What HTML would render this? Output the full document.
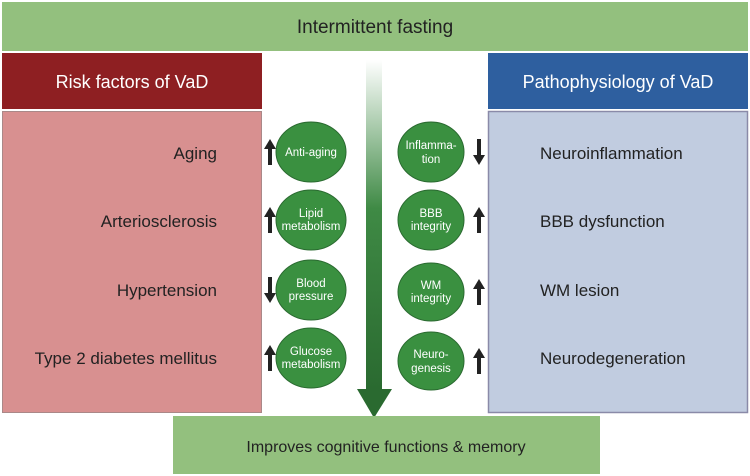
<!DOCTYPE html>
<html><head><meta charset="utf-8"><style>
body{margin:0;width:750px;height:476px;background:#fff;overflow:hidden}
svg{display:block}
text{font-family:"Liberation Sans",sans-serif}
</style></head><body>
<svg width="750" height="476" viewBox="0 0 750 476" xmlns="http://www.w3.org/2000/svg">
<defs>
<linearGradient id="g" x1="0" y1="0" x2="0" y2="1">
<stop offset="0" stop-color="#ffffff"/>
<stop offset="0.45" stop-color="#3f8a45"/>
<stop offset="1" stop-color="#2a6a30"/>
</linearGradient>
<g id="up"><polygon points="0,-13 -6,-3 -2,-3 -2,13 2,13 2,-3 6,-3" fill="#222"/></g>
<g id="dn"><polygon points="0,13 -6,3 -2,3 -2,-13 2,-13 2,3 6,3" fill="#222"/></g>
</defs>
<rect x="2" y="2" width="746" height="49" fill="#93c07e"/>
<text x="375" y="33" font-size="19" text-anchor="middle" fill="#222">Intermittent fasting</text>
<rect x="2" y="53" width="260" height="56" fill="#8e1f22"/>
<text x="132" y="88" font-size="18" text-anchor="middle" fill="#fff">Risk factors of VaD</text>
<rect x="488" y="53" width="260" height="56" fill="#2e5f9f"/>
<text x="618" y="88" font-size="18" text-anchor="middle" fill="#fff">Pathophysiology of VaD</text>
<rect x="2.5" y="111.5" width="259" height="301" fill="#d89090" stroke="#a88" stroke-width="1"/>
<rect x="488.5" y="111.5" width="259" height="301" fill="#c1cce0" stroke="#8a8aa8" stroke-width="1.5"/>
<rect x="366" y="60" width="16" height="330" fill="url(#g)"/>
<polygon points="357,389 392,389 374,418" fill="#2a6a30"/>
<rect x="173" y="416" width="427" height="58" fill="#93c07e"/>
<text x="386" y="452" font-size="16" text-anchor="middle" fill="#222">Improves cognitive functions &amp; memory</text>
<g font-size="17" fill="#222" text-anchor="end">
<text x="217" y="159">Aging</text>
<text x="217" y="227">Arteriosclerosis</text>
<text x="217" y="296">Hypertension</text>
<text x="217" y="364">Type 2 diabetes mellitus</text>
</g>
<g font-size="17" fill="#222">
<text x="540" y="159">Neuroinflammation</text>
<text x="540" y="227">BBB dysfunction</text>
<text x="540" y="296">WM lesion</text>
<text x="540" y="364">Neurodegeneration</text>
</g>
<g fill="#3a9040" stroke="#2a6a30" stroke-width="1">
<ellipse cx="311" cy="152" rx="35" ry="30"/><ellipse cx="311" cy="220" rx="35" ry="30"/>
<ellipse cx="311" cy="290" rx="35" ry="30"/><ellipse cx="311" cy="358" rx="35" ry="30"/>
<ellipse cx="431" cy="152" rx="33" ry="30"/><ellipse cx="431" cy="220" rx="33" ry="30"/>
<ellipse cx="431" cy="292" rx="33" ry="29"/><ellipse cx="431" cy="361" rx="33" ry="29"/>
</g>
<g font-size="11.5" fill="#fff" text-anchor="middle">
<text x="311" y="156">Anti-aging</text>
<text x="311" y="217">Lipid</text><text x="311" y="230">metabolism</text>
<text x="311" y="287">Blood</text><text x="311" y="300">pressure</text>
<text x="311" y="355">Glucose</text><text x="311" y="368">metabolism</text>
<text x="431" y="149">Inflamma-</text><text x="431" y="163">tion</text>
<text x="431" y="217">BBB</text><text x="431" y="230">integrity</text>
<text x="431" y="289">WM</text><text x="431" y="302">integrity</text>
<text x="431" y="358">Neuro-</text><text x="431" y="372">genesis</text>
</g>
<use href="#up" x="270" y="152"/><use href="#up" x="270" y="220"/>
<use href="#dn" x="270" y="290"/><use href="#up" x="270" y="358"/>
<use href="#dn" x="479" y="152"/><use href="#up" x="479" y="220"/>
<use href="#up" x="479" y="292"/><use href="#up" x="479" y="361"/>
</svg>
</body></html>
